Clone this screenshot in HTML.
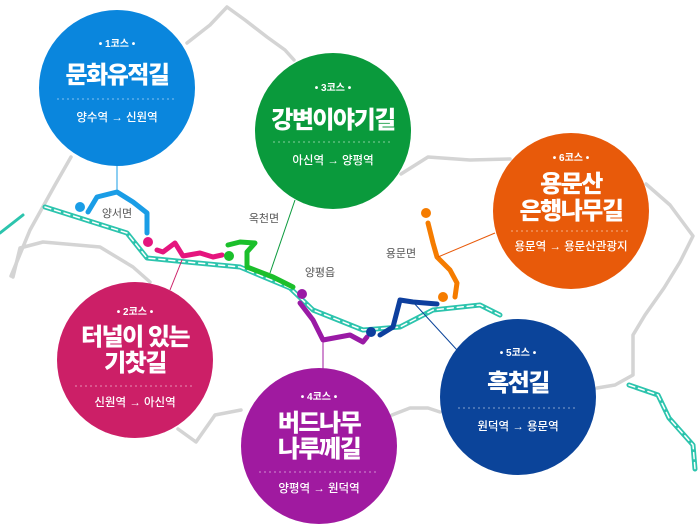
<!DOCTYPE html>
<html><head><meta charset="utf-8"><style>
html,body{margin:0;padding:0;background:#fff;}
svg{display:block;font-family:"Liberation Sans","Noto Sans CJK KR",sans-serif;}
.s{font-size:10px;fill:#fff;font-weight:bold;text-anchor:middle}
.t{font-size:24px;fill:#fff;font-weight:900;text-anchor:middle;letter-spacing:-1.5px}
.r{font-size:11.5px;fill:#fff;text-anchor:middle;font-weight:500}
.l{font-size:11px;fill:#555;text-anchor:middle}
</style></head><body>
<svg width="699" height="525" viewBox="0 0 699 525">
<g fill="none" stroke="#d4d4d4" stroke-width="3.5" stroke-linejoin="round" stroke-linecap="round">
<path d="M11,276 L30,230 L55,185 L71,157"/>
<path d="M187,43 L210,25 L227,7 L245,20 L267,37 L285,50 L294,60"/>
<path d="M401,174 L428,157 L470,160 L510,159"/>
<path d="M646,184 L670,205 L693,236 L680,262 L664,288 L645,315 L633,335 L633,375 L615,385 L597,388"/>
<path d="M392,415 L410,408 L428,408 L440,412"/>
<path d="M241,410 L215,415 L196,442 L178,429"/>
<path d="M13,277 L20,248 L43,242 L100,247 L133,267 L150,282"/>
</g>
<g fill="none" stroke-linecap="round" stroke-linejoin="round">
<path d="M45,207 L127,233 L147,258 L187,262 L240,267 L290,288 L313,310 L363,330 L400,327 L433,310 L480,305 L500,315" stroke="#2cc4ad" stroke-width="5"/>
<path d="M45,207 L127,233 L147,258 L187,262 L240,267 L290,288 L313,310 L363,330 L400,327 L433,310 L480,305 L500,315" stroke="#fff" stroke-width="1.5" stroke-dasharray="6 4"/>
<path d="M629,385 L658,395 L669,418 L693,445 L695,469" stroke="#2cc4ad" stroke-width="5"/>
<path d="M629,385 L658,395 L669,418 L693,445 L695,469" stroke="#fff" stroke-width="1.5" stroke-dasharray="6 4"/>
<path d="M0,233 L23,215" stroke="#2cc4ad" stroke-width="3"/>
<path d="M88,212 L97,197 L117,192 L133,202 L147,213 L147,233" stroke="#1a9de6" stroke-width="5"/>
<path d="M157,250 L163,252 L175,243 L183,256 L200,253 L213,257 L222,255" stroke="#e5157e" stroke-width="5"/>
<path d="M228,245 L240,242 L255,243 L247,252 L247,267 L273,277 L293,287" stroke="#1bbf2b" stroke-width="5"/>
<path d="M300,303 L313,320 L323,340 L350,335 L363,342 L367,337" stroke="#9a1aa5" stroke-width="5"/>
<path d="M380,335 L393,327 L400,300 L413,302 L437,304" stroke="#0d3f9e" stroke-width="5"/>
<path d="M428,223 L433,243 L437,257 L450,270 L457,283 L455,297" stroke="#f57c00" stroke-width="5"/>
</g>
<circle cx="80" cy="207" r="5" fill="#1a9de6"/>
<circle cx="148" cy="242" r="5" fill="#e5157e"/>
<circle cx="229" cy="256" r="5" fill="#1bbf2b"/>
<circle cx="302" cy="294" r="5" fill="#9a1aa5"/>
<circle cx="371" cy="332" r="5" fill="#0d3f9e"/>
<circle cx="426" cy="213" r="5" fill="#f57c00"/>
<circle cx="443" cy="297" r="5" fill="#f57c00"/>
<g stroke-width="1">
<line x1="117" y1="160" x2="117" y2="190" stroke="#1a9de6"/>
<line x1="182" y1="260" x2="170" y2="290" stroke="#cc1f67"/>
<line x1="295" y1="200" x2="270" y2="273" stroke="#0a9a3c"/>
<line x1="495" y1="233" x2="438" y2="257" stroke="#e85a0a"/>
<line x1="323" y1="340" x2="323" y2="372" stroke="#a01aa0"/>
<line x1="413" y1="302" x2="457" y2="350" stroke="#0b449a"/>
</g>
<text class="l" x="117" y="217">양서면</text>
<text class="l" x="264" y="222">옥천면</text>
<text class="l" x="320" y="276">양평읍</text>
<text class="l" x="401" y="257">용문면</text>

<g><circle cx="117" cy="88" r="78" fill="#0a86dd"/>
<text class="s" x="117" y="47">• 1코스 •</text>
<text class="t" x="117" y="83">문화유적길</text>
<line x1="57" y1="99" x2="177" y2="99" stroke="#fff" stroke-opacity=".5" stroke-dasharray="2 3"/>
<text class="r" x="117" y="121">양수역 → 신원역</text></g>

<g><circle cx="333" cy="131" r="78" fill="#0a9a3c"/>
<text class="s" x="333" y="91">• 3코스 •</text>
<text class="t" x="333" y="128">강변이야기길</text>
<line x1="273" y1="142" x2="393" y2="142" stroke="#fff" stroke-opacity=".5" stroke-dasharray="2 3"/>
<text class="r" x="333" y="164">아신역 → 양평역</text></g>

<g><circle cx="571" cy="211" r="78" fill="#e85a0a"/>
<text class="s" x="571" y="161">• 6코스 •</text>
<text class="t" x="571" y="192">용문산</text>
<text class="t" x="571" y="219">은행나무길</text>
<line x1="511" y1="231" x2="631" y2="231" stroke="#fff" stroke-opacity=".5" stroke-dasharray="2 3"/>
<text class="r" x="571" y="250">용문역 → 용문산관광지</text></g>

<g><circle cx="135" cy="360" r="78" fill="#cc1f67"/>
<text class="s" x="135" y="315">• 2코스 •</text>
<text class="t" x="135" y="345">터널이 있는</text>
<text class="t" x="135" y="371">기찻길</text>
<line x1="75" y1="386" x2="195" y2="386" stroke="#fff" stroke-opacity=".5" stroke-dasharray="2 3"/>
<text class="r" x="135" y="406">신원역 → 아신역</text></g>

<g><circle cx="319" cy="446" r="78" fill="#a01aa0"/>
<text class="s" x="319" y="400">• 4코스 •</text>
<text class="t" x="319" y="431">버드나무</text>
<text class="t" x="319" y="457">나루께길</text>
<line x1="259" y1="472" x2="379" y2="472" stroke="#fff" stroke-opacity=".5" stroke-dasharray="2 3"/>
<text class="r" x="319" y="492">양평역 → 원덕역</text></g>

<g><circle cx="518" cy="397" r="78" fill="#0b449a"/>
<text class="s" x="518" y="356">• 5코스 •</text>
<text class="t" x="518" y="391">흑천길</text>
<line x1="458" y1="408" x2="578" y2="408" stroke="#fff" stroke-opacity=".5" stroke-dasharray="2 3"/>
<text class="r" x="518" y="430">원덕역 → 용문역</text></g>
</svg>
</body></html>
